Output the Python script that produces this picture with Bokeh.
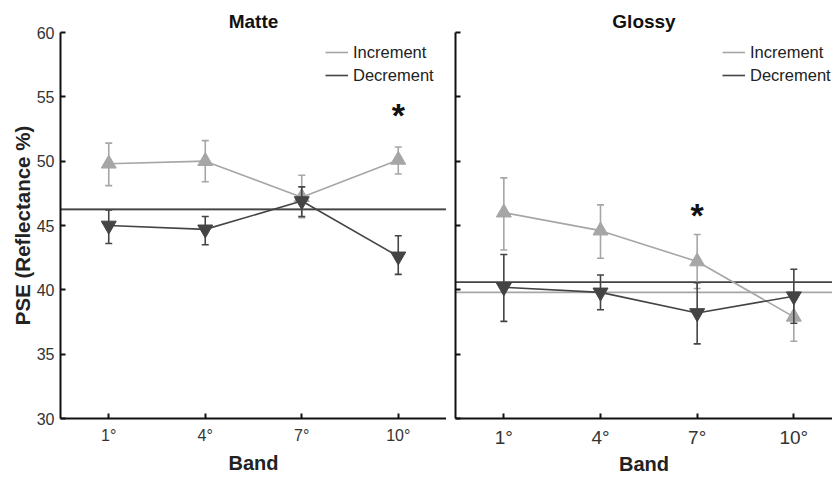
from bokeh.plotting import figure
from bokeh.layouts import row
from bokeh.models import Legend, LegendItem, FixedTicker, ColumnDataSource, Range1d
from bokeh.core.properties import value
from bokeh.embed import file_html
from bokeh.resources import INLINE

bands = [1, 4, 7, 10]
tick_labels = {1: "1°", 4: "4°", 7: "7°", 10: "10°"}
y_ticks = [30, 35, 40, 45, 50, 55, 60]

# Matte
matte_inc = [49.8, 50.0, 47.2, 50.1]
matte_inc_lo = [48.1, 48.4, 45.6, 49.0]
matte_inc_hi = [51.4, 51.6, 48.9, 51.1]
matte_dec = [45.0, 44.7, 46.9, 42.6]
matte_dec_lo = [43.6, 43.5, 45.7, 41.2]
matte_dec_hi = [46.2, 45.7, 48.0, 44.2]
matte_ref_inc = 46.25
matte_ref_dec = 46.25
matte_star_x = [10]
matte_star_y = [53.6]

# Glossy
glossy_inc = [46.0, 44.6, 42.2, 37.9]
glossy_inc_lo = [43.1, 42.45, 40.1, 36.0]
glossy_inc_hi = [48.7, 46.6, 44.3, 39.8]
glossy_dec = [40.2, 39.8, 38.2, 39.5]
glossy_dec_lo = [37.55, 38.45, 35.8, 37.4]
glossy_dec_hi = [42.75, 41.15, 40.55, 41.6]
glossy_ref_inc = 39.8
glossy_ref_dec = 40.6
glossy_star_x = [7]
glossy_star_y = [45.85]

LIGHT = "#a6a6a6"
DARK = "#444444"
FONT = "Liberation Sans"


def make_panel(title, inc, inc_lo, inc_hi, dec, dec_lo, dec_hi, ref_inc, ref_dec,
               star_x, star_y, left, width, x_end, show_ylabels, title_offset,
               xtick_size, xlabel_standoff, legend_x):
    p = figure(width=width, height=477, output_backend="svg", toolbar_location=None,
               x_range=Range1d(-0.5, x_end), y_range=Range1d(30, 60),
               min_border_left=left, min_border_right=0, min_border_top=32,
               min_border_bottom=58)
    p.outline_line_color = None
    p.grid.visible = False
    p.background_fill_color = "white"
    p.border_fill_color = "white"

    p.title.text = title
    p.title.align = "center"
    p.title.offset = title_offset
    p.title.text_font = FONT
    p.title.text_font_size = "19px"
    p.title.text_font_style = "bold"
    p.title.text_color = "#111111"
    p.title.standoff = 2

    xax = p.xaxis[0]
    yax = p.yaxis[0]
    for ax in (xax, yax):
        ax.axis_line_width = 2
        ax.axis_line_color = "#111111"
        ax.major_tick_in = 5
        ax.major_tick_out = 0
        ax.major_tick_line_width = 2
        ax.major_tick_line_color = "#111111"
        ax.minor_tick_line_color = None
        ax.major_label_text_font = FONT
        ax.major_label_text_color = "#333333"
        ax.axis_label_text_font = FONT
        ax.axis_label_text_font_style = "bold"
        ax.axis_label_text_font_size = "20px"
        ax.axis_label_text_color = "#222222"

    xax.ticker = FixedTicker(ticks=bands)
    xax.major_label_overrides = tick_labels
    xax.major_label_text_font_size = xtick_size
    xax.axis_label = "Band"
    xax.major_label_standoff = 8
    xax.axis_label_standoff = xlabel_standoff

    yax.ticker = FixedTicker(ticks=y_ticks)
    yax.major_label_text_font_size = "16px"
    if show_ylabels:
        yax.axis_label = "PSE (Reflectance %)"
        yax.axis_label_text_font_size = "20.5px"
        yax.major_label_standoff = 6
        yax.axis_label_standoff = 0
    else:
        yax.major_label_overrides = {t: "" for t in y_ticks}
        yax.major_label_standoff = 0

    # reference lines
    p.segment(x0=[-0.5], x1=[x_end], y0=[ref_inc], y1=[ref_inc], line_color=LIGHT, line_width=1.6)
    p.segment(x0=[-0.5], x1=[x_end], y0=[ref_dec], y1=[ref_dec], line_color=DARK, line_width=1.6)

    renderers = {}
    for name, ys, lo, hi, color, marker in (
        ("Increment", inc, inc_lo, inc_hi, LIGHT, "triangle"),
        ("Decrement", dec, dec_lo, dec_hi, DARK, "inverted_triangle"),
    ):
        src = ColumnDataSource(dict(x=bands, y=ys, lo=lo, hi=hi))
        p.segment(x0="x", x1="x", y0="lo", y1="hi", source=src, line_color=color, line_width=1.6)
        p.scatter(x="x", y="lo", source=src, marker="dash", size=7, line_color=color, line_width=1.6)
        p.scatter(x="x", y="hi", source=src, marker="dash", size=7, line_color=color, line_width=1.6)
        ln = p.line(x="x", y="y", source=src, line_color=color, line_width=1.6)
        p.scatter(x="x", y="y", source=src, marker=marker, size=15, fill_color=color,
                  line_color=color)
        renderers[name] = ln

    p.text(x=star_x, y=star_y, text=["*"], text_font=value(FONT), text_font_style="bold",
           text_font_size="34px", text_align="center", text_baseline="middle",
           text_color="#111111")

    legend = Legend(items=[LegendItem(label="Increment", renderers=[renderers["Increment"]]),
                           LegendItem(label="Decrement", renderers=[renderers["Decrement"]])],
                    location=(legend_x, 333), border_line_color=None, background_fill_alpha=0,
                    padding=0, margin=0, spacing=3, glyph_width=23, glyph_height=20,
                    label_height=20,
                    label_text_font=FONT, label_text_font_size="16.5px",
                    label_text_color="#222222", label_standoff=5)
    p.add_layout(legend, "center")
    return p


left = make_panel("Matte", matte_inc, matte_inc_lo, matte_inc_hi, matte_dec, matte_dec_lo,
                  matte_dec_hi, matte_ref_inc, matte_ref_dec, matte_star_x, matte_star_y,
                  left=60, width=446, x_end=11.5, show_ylabels=True, title_offset=0,
                  xtick_size="16px", xlabel_standoff=5, legend_x=265)
right = make_panel("Glossy", glossy_inc, glossy_inc_lo, glossy_inc_hi, glossy_dec, glossy_dec_lo,
                   glossy_dec_hi, glossy_ref_inc, glossy_ref_dec, glossy_star_x, glossy_star_y,
                   left=9, width=386, x_end=11.2, show_ylabels=False, title_offset=4.5,
                   xtick_size="19px", xlabel_standoff=2, legend_x=267)

layout = row(left, right)
open("out.html", "w").write(file_html(layout, INLINE))
